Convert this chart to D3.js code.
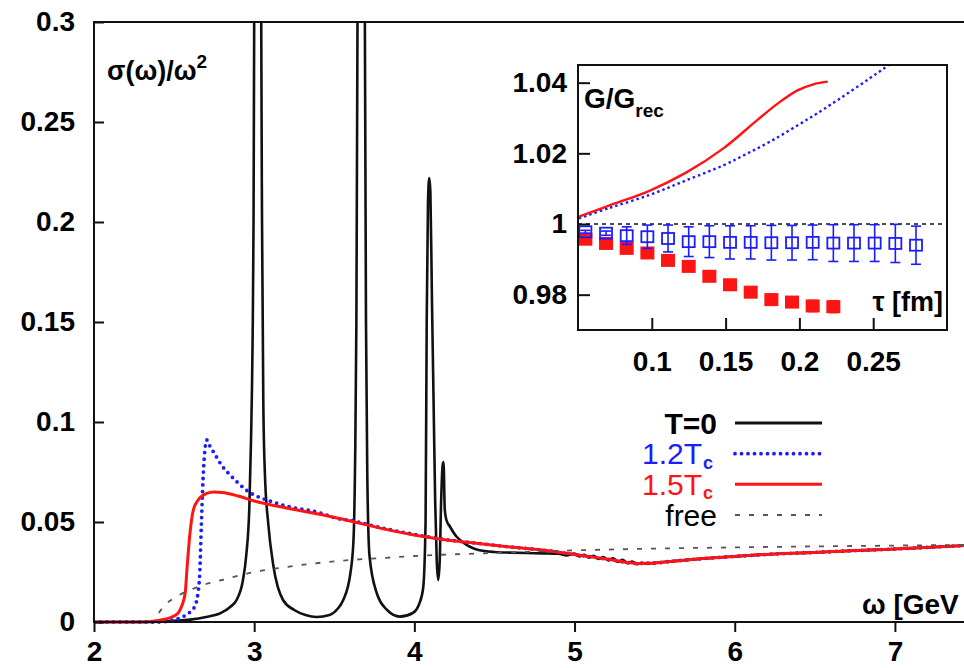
<!DOCTYPE html>
<html>
<head>
<meta charset="utf-8">
<script src="https://cdn.jsdelivr.net/npm/d3@7/dist/d3.min.js"></script>
<style>
  html, body { margin: 0; padding: 0; background: #fff; }
  svg { display: block; font-family: "Liberation Sans", Arial, sans-serif; }
</style>
</head>
<body>
<svg id="chart" width="964" height="668"></svg>
<script>
// ---- spectral functions sigma(omega)/omega^2, [omega (GeV), value] ----
const specT0 = [
  [2.0,0],[2.3,0],[2.4,0.0002],[2.5,0.0006],[2.6,0.0012],[2.7,0.0025],[2.79,0.0044],[2.85,0.0075],
  [2.89,0.011],[2.93,0.021],[2.95,0.033],[2.97,0.058],[2.98,0.09],[2.99,0.14],[2.996,0.2],[3.0,0.3],
  [3.006,0.6],[3.022,2.0],[3.038,0.6],[3.044,0.3],[3.049,0.2],[3.057,0.11],[3.067,0.074],[3.088,0.049],
  [3.12,0.028],[3.18,0.011],[3.25,0.006],[3.32,0.0035],[3.39,0.0025],[3.47,0.0035],[3.52,0.0065],
  [3.556,0.011],[3.6,0.024],[3.62,0.041],[3.63,0.08],[3.638,0.15],[3.645,0.3],[3.652,0.6],[3.668,2.0],
  [3.684,0.6],[3.691,0.3],[3.698,0.15],[3.706,0.074],[3.72,0.033],[3.765,0.0145],[3.83,0.006],
  [3.91,0.0027],[3.99,0.0045],[4.03,0.009],[4.055,0.017],[4.07,0.05],[4.077,0.15],[4.085,0.21],
  [4.093,0.222],[4.1,0.215],[4.11,0.16],[4.12,0.11],[4.13,0.06],[4.14,0.03],[4.149,0.021],[4.158,0.03],
  [4.167,0.06],[4.176,0.078],[4.182,0.08],[4.19,0.056],[4.2,0.051],[4.22,0.048],[4.26,0.043],[4.3,0.040],
  [4.35,0.0375],[4.4,0.036],[4.5,0.035],[4.6,0.0347],[4.7,0.0345],[4.8,0.0343],[4.9,0.0341],
  [4.95,0.0333],[5.0,0.0342],[5.03,0.0328],[5.06,0.0336],[5.09,0.0322],[5.12,0.0331],[5.15,0.0315],
  [5.18,0.0325],[5.21,0.0308],[5.24,0.0318],[5.27,0.0301],[5.3,0.0311],[5.33,0.0294],[5.36,0.0302],
  [5.39,0.0289],[5.42,0.0296],[5.45,0.0292],[5.5,0.0295],[5.6,0.0303],
  [5.8,0.0317],[6.0,0.0328],[6.25,0.034],[6.5,0.0348],[6.75,0.0357],[7.0,0.0365],[7.25,0.0375],[7.5,0.0385]
];
const spec12Tc = [
  [2.0,0],[2.4,0],[2.5,0.001],[2.55,0.0025],[2.6,0.005],[2.63,0.008],[2.65,0.015],[2.66,0.024],
  [2.67,0.048],[2.68,0.07],[2.69,0.084],[2.705,0.091],[2.72,0.0885],[2.75,0.0845],[2.8,0.078],
  [2.85,0.0735],[2.9,0.0695],[2.95,0.066],[3.0,0.0635],[3.08,0.061],[3.2,0.058],[3.4,0.0548],
  [3.535,0.0515],[3.6,0.0508],[3.8,0.047],[4.0,0.0438],[4.2,0.0412],[4.4,0.0393],[4.6,0.0375],
  [4.8,0.036],[5.0,0.0337],[5.2,0.0315],[5.4,0.0293],[5.5,0.0295],[5.6,0.0303],[5.8,0.0317],
  [6.0,0.0328],[6.25,0.034],[6.5,0.0348],[6.75,0.0357],[7.0,0.0365],[7.25,0.0375],[7.5,0.0385]
];
const spec15Tc = [
  [2.0,0],[2.3,0],[2.4,0.0008],[2.45,0.0015],[2.5,0.003],[2.53,0.005],[2.55,0.0085],[2.57,0.015],
  [2.58,0.026],[2.6,0.045],[2.62,0.056],[2.65,0.061],[2.7,0.0642],[2.75,0.065],[2.8,0.0648],
  [2.9,0.063],[3.0,0.0605],[3.2,0.057],[3.4,0.054],[3.6,0.0505],[3.8,0.0467],[4.0,0.0435],
  [4.2,0.041],[4.4,0.0393],[4.6,0.0375],[4.8,0.036],[5.0,0.0337],[5.2,0.0315],[5.4,0.0293],
  [5.5,0.0295],[5.6,0.0303],[5.8,0.0317],[6.0,0.0328],[6.25,0.034],[6.5,0.0348],[6.75,0.0357],
  [7.0,0.0365],[7.25,0.0375],[7.5,0.0385]
];
const specFree = [
  [2.0,0],[2.37,0],[2.4,0.004],[2.45,0.009],[2.5,0.012],[2.6,0.016],[2.7,0.019],[2.8,0.021],
  [3.0,0.025],[3.2,0.0275],[3.4,0.0295],[3.6,0.031],[3.8,0.032],[4.0,0.033],[4.5,0.0345],
  [5.0,0.0358],[5.5,0.0367],[6.0,0.0373],[6.5,0.0378],[7.0,0.0382],[7.5,0.0386]
];

// ---- correlator ratio G/G_rec, [tau (fm), value] ----
const ratioCurve15 = [
  [0.0506,1.0021],[0.071,1.0052],[0.0984,1.0094],[0.1235,1.0146],[0.1485,1.0214],
  [0.1714,1.0294],[0.185,1.0340],[0.1987,1.0378],[0.21,1.0396],[0.2192,1.0403]
];
const ratioCurve12 = [
  [0.0506,1.0016],[0.071,1.0045],[0.0984,1.0082],[0.1235,1.0124],[0.1485,1.0166],
  [0.1645,1.0199],[0.1805,1.0234],[0.1987,1.0279],[0.2169,1.0326],[0.2568,1.0439],[0.27,1.048]
];
const tauPoints = [0.055,0.069,0.083,0.097,0.111,0.125,0.139,0.153,0.167,0.181,0.195,0.209,0.223,0.237,0.251,0.265,0.279];
const lattice12 = [0.9978,0.9974,0.9967,0.9964,0.9959,0.9950,0.9950,0.9948,0.9948,0.9947,0.9947,0.9948,0.9946,0.9946,0.9946,0.9945,0.9940];
const lattice12Err = [0.0004,0.0006,0.0025,0.0033,0.0038,0.0042,0.0045,0.0047,0.0047,0.0049,0.0049,0.0049,0.0052,0.0052,0.0052,0.0054,0.0054];
const lattice15 = [0.9957,0.9945,0.9931,0.9918,0.9897,0.9880,0.9852,0.9828,0.9807,0.9786,0.9779,0.9768,0.9766];
const lattice15Err = [0.0004,0.0004,0.0005,0.0005,0.0006,0.0006,0.0007,0.0008,0.0009,0.0014,0.0014,0.0015,0.0016];

// ---- tick values ----
const omegaTicks = [2,3,4,5,6,7];
const sigmaTicks = [0,0.05,0.1,0.15,0.2,0.25,0.3];
const tauTicks = [0.1,0.15,0.2,0.25];
const ratioTicks = [0.98,1,1.02,1.04];

const BLUE = "#1c1cff", RED = "#ff1414";
const FONT = "'Liberation Sans', Arial, sans-serif";

const svg = d3.select("#chart");

// ================= main panel =================
const x = d3.scaleLinear().domain([2, 7.5]).range([94, 975]);
const y = d3.scaleLinear().domain([0, 0.3]).range([622, 22]);

svg.append("clipPath").attr("id", "mainClip")
  .append("rect").attr("x", 94).attr("y", 22).attr("width", 881).attr("height", 603);

const line = d3.line().x(d => x(d[0])).y(d => y(d[1])).curve(d3.curveMonotoneX);
const plot = svg.append("g").attr("clip-path", "url(#mainClip)");

plot.append("path").datum(specT0).attr("d", line)
  .attr("fill", "none").attr("stroke", "#111").attr("stroke-width", 2.6);
plot.append("path").datum(spec12Tc).attr("d", line)
  .attr("fill", "none").attr("stroke", BLUE).attr("stroke-width", 3.8)
  .attr("stroke-linecap", "round").attr("stroke-dasharray", "0,6.5");
plot.append("path").datum(spec15Tc).attr("d", line)
  .attr("fill", "none").attr("stroke", RED).attr("stroke-width", 3);
plot.append("path").datum(specFree).attr("d", line)
  .attr("fill", "none").attr("stroke", "#555").attr("stroke-width", 1.8)
  .attr("stroke-dasharray", "5,9");

// axes
const yAxis = d3.axisLeft(y).tickValues(sigmaTicks).tickSize(-10).tickPadding(19)
  .tickFormat(d3.format("~g"));
const gy = svg.append("g").attr("transform", "translate(94,0)").call(yAxis);
const xAxis = d3.axisBottom(x).tickValues(omegaTicks).tickSize(10).tickPadding(9)
  .tickFormat(d3.format("d"));
const gx = svg.append("g").attr("transform", "translate(0,622)").call(xAxis);
[gx, gy].forEach(g => {
  g.select(".domain").remove();
  g.selectAll(".tick line").attr("stroke", "#111").attr("stroke-width", 2);
  g.selectAll(".tick text").attr("fill", "#000").attr("font-size", 28)
    .attr("font-weight", "bold").attr("font-family", FONT);
});

// frame (left, bottom, top)
svg.append("path")
  .attr("d", `M${x(7.5)},${y(0.3)}H${x(2)}V${y(0)}H${x(7.5)}`)
  .attr("fill", "none").attr("stroke", "#111").attr("stroke-width", 2);

// axis titles
const yTitle = svg.append("text").attr("x", 107).attr("y", 80)
  .attr("font-size", 27).attr("font-weight", "bold").text("σ(ω)/ω");
yTitle.append("tspan").attr("font-size", 19).attr("dy", -12).text("2");
svg.append("text").attr("x", 862).attr("y", 614)
  .attr("font-size", 28).attr("font-weight", "bold").text("ω [GeV");

// legend
const legendRows = [
  {label: "T=0", sub: "", color: "#000", weight: "bold", stroke: "#111", width: 3, dash: null, cap: "butt"},
  {label: "1.2T", sub: "c", color: BLUE, weight: "normal", stroke: BLUE, width: 3.8, dash: "0,6.5", cap: "round"},
  {label: "1.5T", sub: "c", color: RED, weight: "normal", stroke: RED, width: 3, dash: null, cap: "butt"},
  {label: "free", sub: "", color: "#000", weight: "normal", stroke: "#555", width: 1.8, dash: "5,9", cap: "butt"}
];
const legendY = d3.scalePoint().domain(d3.range(legendRows.length)).range([423, 515]);
legendRows.forEach((r, i) => {
  const cy = legendY(i);
  svg.append("text").attr("x", r.sub ? 702 : 717).attr("y", cy + 10.5)
    .attr("text-anchor", "end").attr("font-size", 30)
    .attr("font-weight", r.weight).attr("fill", r.color).text(r.label);
  if (r.sub) {
    svg.append("text").attr("x", 703).attr("y", cy + 15)
      .attr("font-size", 18).attr("font-weight", "bold").attr("fill", r.color).text(r.sub);
  }
  svg.append("line").attr("x1", 735).attr("x2", 822).attr("y1", cy).attr("y2", cy)
    .attr("stroke", r.stroke).attr("stroke-width", r.width)
    .attr("stroke-linecap", r.cap).attr("stroke-dasharray", r.dash);
});

// ================= inset panel =================
const ix = d3.scaleLinear().domain([0.05, 0.3]).range([578, 947]);
const iy = d3.scaleLinear().domain([0.97, 1.045]).range([330, 65]);

svg.append("rect").attr("x", 578).attr("y", 65).attr("width", 369).attr("height", 265).attr("fill", "#fff");
svg.append("clipPath").attr("id", "insetClip")
  .append("rect").attr("x", 578).attr("y", 65).attr("width", 369).attr("height", 265);
const inset = svg.append("g").attr("clip-path", "url(#insetClip)");

// reference line at 1
inset.append("line").attr("x1", ix(0.05)).attr("x2", ix(0.3)).attr("y1", iy(1)).attr("y2", iy(1))
  .attr("stroke", "#111").attr("stroke-width", 1.6).attr("stroke-dasharray", "4,4");

const iline = d3.line().x(d => ix(d[0])).y(d => iy(d[1])).curve(d3.curveCatmullRom);
inset.append("path").datum(ratioCurve12).attr("d", iline)
  .attr("fill", "none").attr("stroke", BLUE).attr("stroke-width", 2.4)
  .attr("stroke-dasharray", "2.5,3");
inset.append("path").datum(ratioCurve15).attr("d", iline)
  .attr("fill", "none").attr("stroke", RED).attr("stroke-width", 2.4);

// lattice points with error bars
const pts15 = lattice15.map((v, i) => ({t: tauPoints[i], v, e: lattice15Err[i]}));
const pts12 = lattice12.map((v, i) => ({t: tauPoints[i], v, e: lattice12Err[i]}));

function errorBars(g, pts, cap) {
  pts.forEach(p => {
    const cx = ix(p.t), lo = iy(p.v - p.e), hi = iy(p.v + p.e);
    g.append("line").attr("x1", cx).attr("x2", cx).attr("y1", lo).attr("y2", hi);
    g.append("line").attr("x1", cx - cap).attr("x2", cx + cap).attr("y1", lo).attr("y2", lo);
    g.append("line").attr("x1", cx - cap).attr("x2", cx + cap).attr("y1", hi).attr("y2", hi);
  });
}

// 1.5Tc: filled squares
errorBars(inset.append("g").attr("stroke", RED).attr("stroke-width", 2), pts15, 4.5);
inset.append("g").selectAll("rect").data(pts15).join("rect")
  .attr("x", d => ix(d.t) - 7).attr("y", d => iy(d.v) - 6.5)
  .attr("width", 14).attr("height", 13).attr("fill", RED);

// 1.2Tc: open squares
errorBars(inset.append("g").attr("stroke", BLUE).attr("stroke-width", 1.6), pts12, 5);
inset.append("g").selectAll("rect").data(pts12).join("rect")
  .attr("x", d => ix(d.t) - 6).attr("y", d => iy(d.v) - 5.5)
  .attr("width", 12).attr("height", 11).attr("fill", "none")
  .attr("stroke", BLUE).attr("stroke-width", 1.8);

// inset axes
const iyAxis = d3.axisLeft(iy).tickValues(ratioTicks).tickSize(-12).tickPadding(11)
  .tickFormat(d3.format("~g"));
const giy = svg.append("g").attr("transform", "translate(578,0)").call(iyAxis);
const ixAxis = d3.axisBottom(ix).tickValues(tauTicks).tickSize(-12).tickPadding(21)
  .tickFormat(d3.format("~g"));
const gix = svg.append("g").attr("transform", "translate(0,330)").call(ixAxis);
[giy, gix].forEach(g => {
  g.select(".domain").remove();
  g.selectAll(".tick line").attr("stroke", "#111").attr("stroke-width", 2);
  g.selectAll(".tick text").attr("fill", "#000").attr("font-size", 28)
    .attr("font-weight", "bold").attr("font-family", FONT);
});
svg.append("rect").attr("x", 578).attr("y", 65).attr("width", 369).attr("height", 265)
  .attr("fill", "none").attr("stroke", "#111").attr("stroke-width", 2);

// inset titles
const gTitle = svg.append("text").attr("x", 584).attr("y", 108)
  .attr("font-size", 28).attr("font-weight", "bold").text("G/G");
gTitle.append("tspan").attr("font-size", 19).attr("dy", 9).text("rec");
svg.append("text").attr("x", 943).attr("y", 311).attr("text-anchor", "end")
  .attr("font-size", 27).attr("font-weight", "bold").text("τ [fm]");
</script>
</body>
</html>
